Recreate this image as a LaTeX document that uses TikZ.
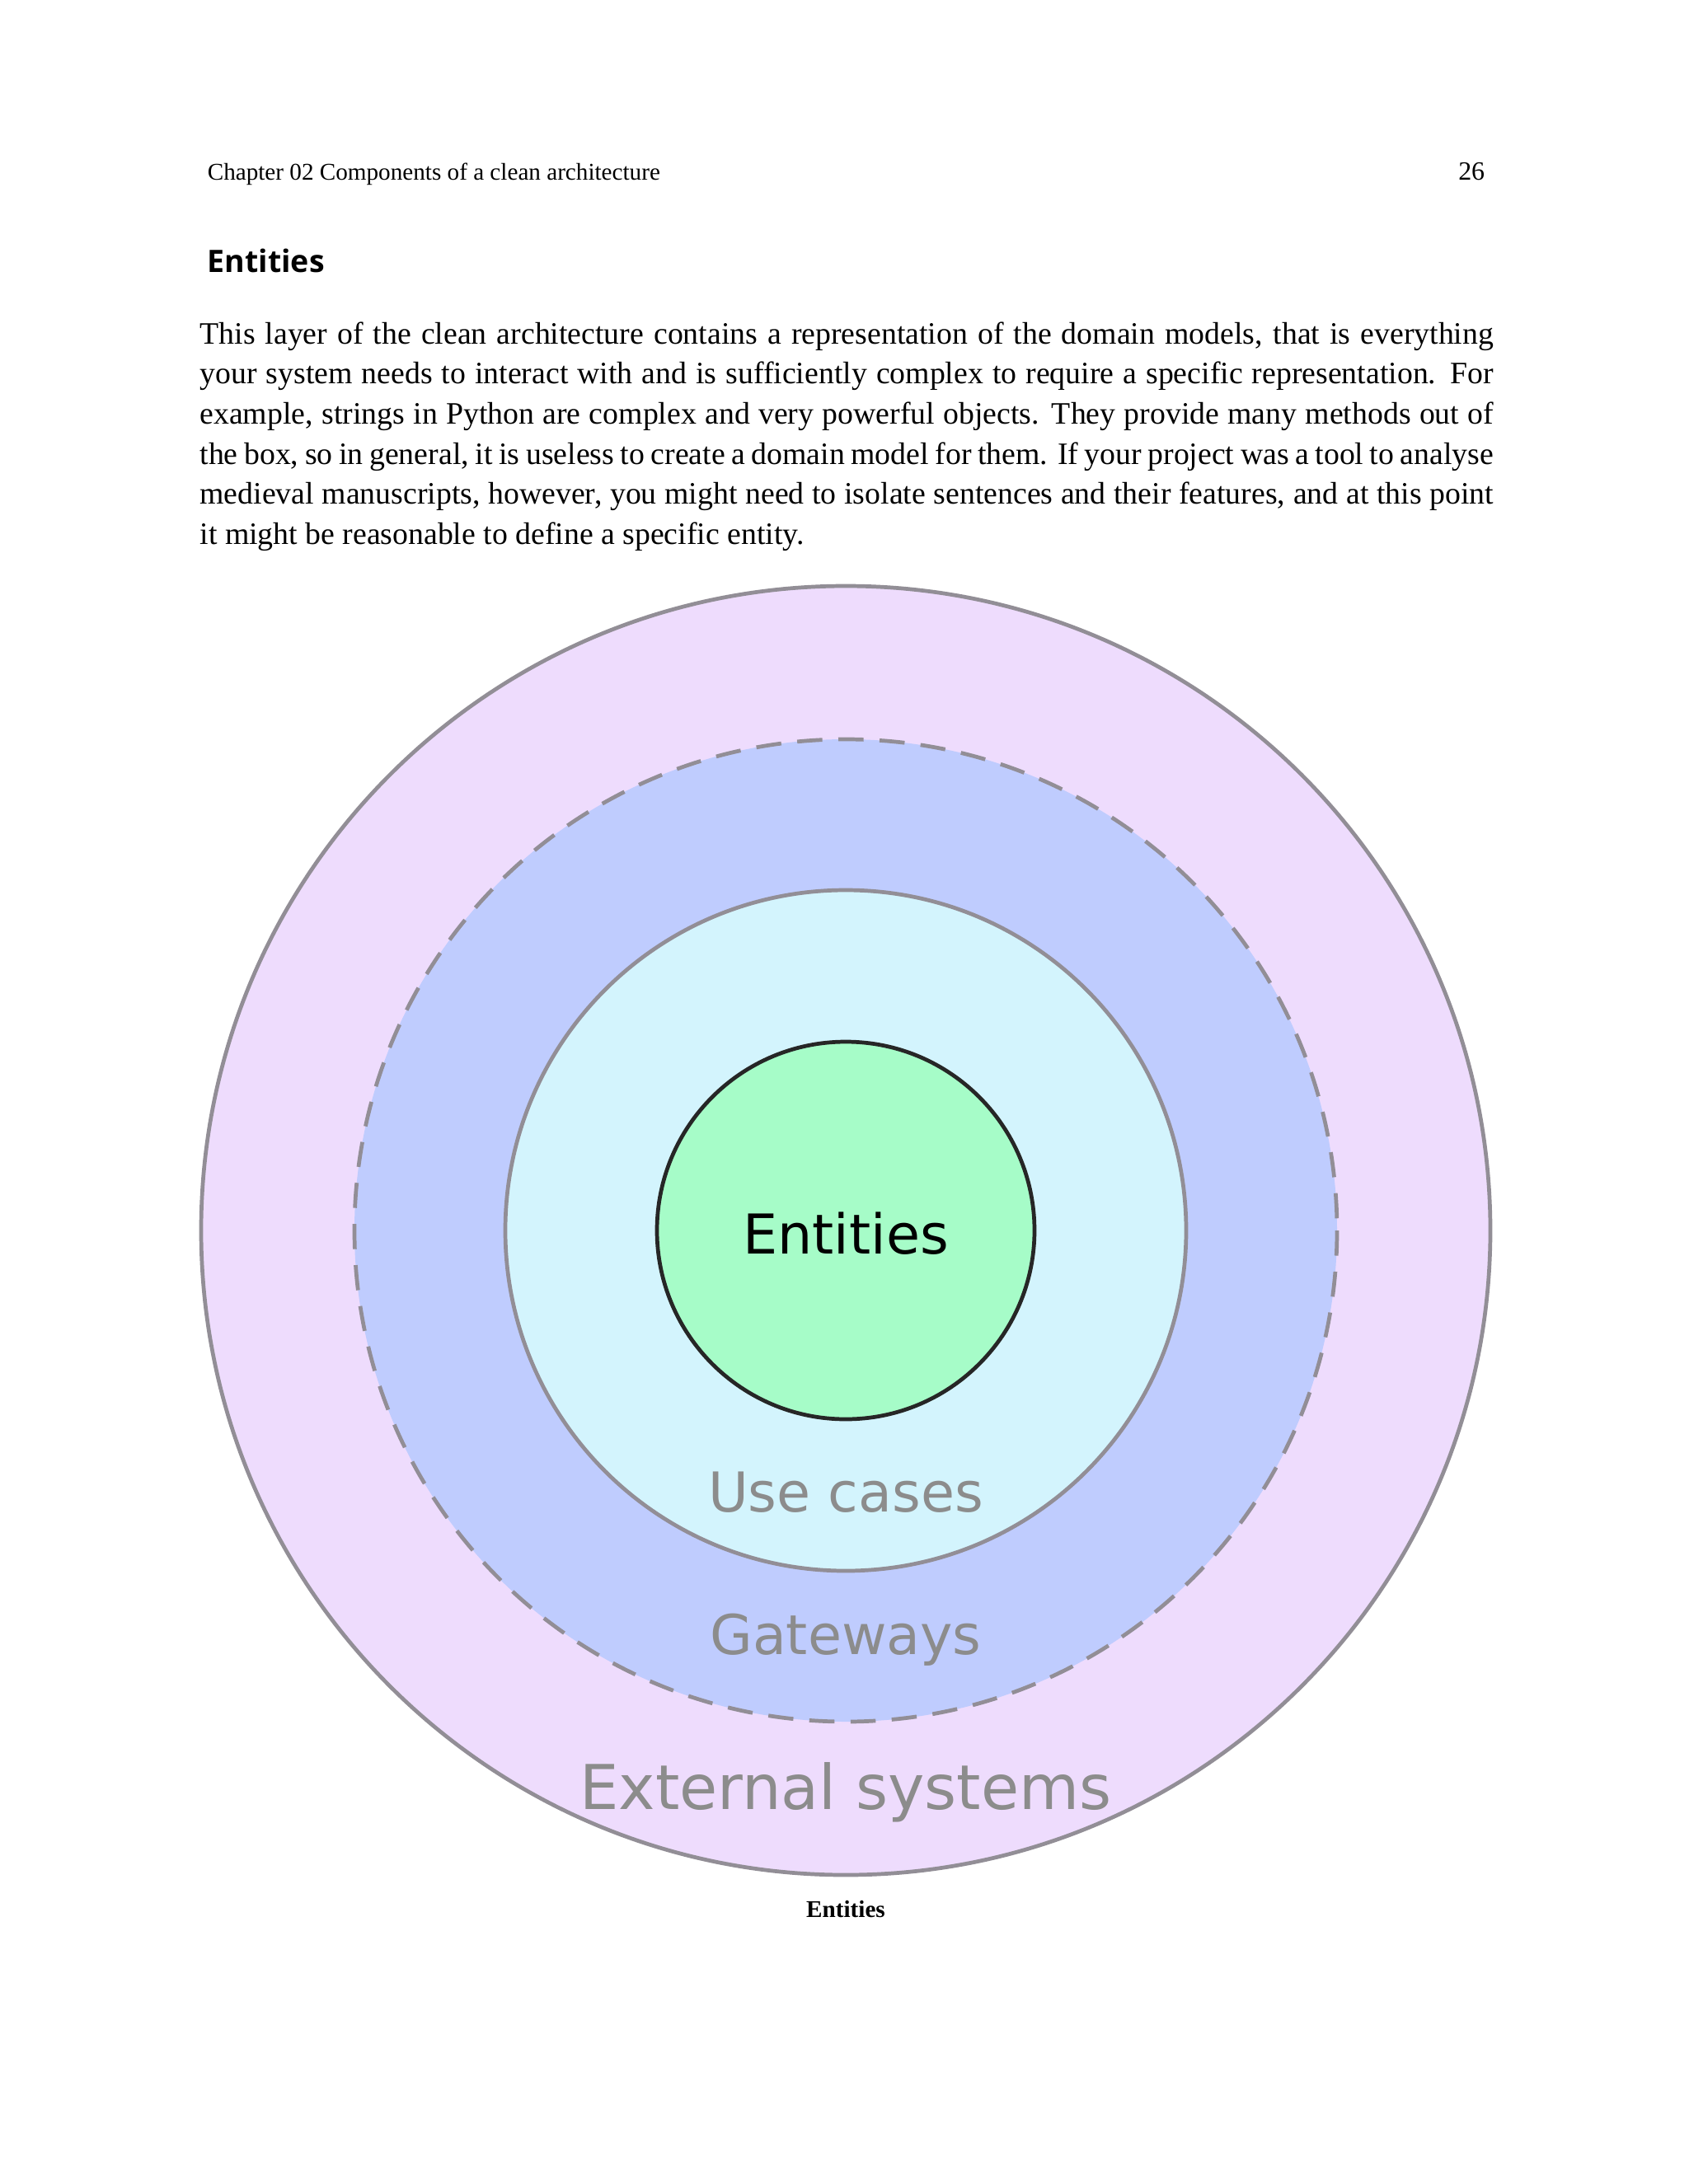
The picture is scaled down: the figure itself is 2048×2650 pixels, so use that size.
\documentclass[tikz,border=0pt]{standalone}
\usepackage{fontspec}
\setmainfont{Liberation Serif}
\newfontfamily\dejavu{DejaVu Sans}
\newfontfamily\opensans{Open Sans}
\definecolor{outerf}{HTML}{EEDCFD}
\definecolor{gatef}{HTML}{BFCCFE}
\definecolor{usef}{HTML}{D3F4FD}
\definecolor{entf}{HTML}{A6FCC8}
\definecolor{ring}{HTML}{928E96}
\definecolor{lbl}{HTML}{8C8C8C}
\begin{document}
\begin{tikzpicture}[x=0.36pt,y=-0.36pt,
  ringline/.style={draw=ring,line width=1.7pt},
  lab/.style={font=\dejavu\fontsize{24}{28}\selectfont,text=lbl}]
\useasboundingbox (0,0) rectangle (2048,2650);
\fill[white] (0,0) rectangle (2048,2650);
\node[anchor=base west,font=\fontsize{10.5}{12}\selectfont] (hdr) at (242,218) {Chapter 02 Components of a clean architecture};
\node[anchor=base east,font=\fontsize{11.5}{12}\selectfont] (pg) at (1811,218) {26};
\node[anchor=base west,font=\opensans\bfseries\fontsize{13.5}{16}\selectfont] (h) at (242,330) {Entities};
\node[anchor=north west,inner sep=0pt,text width=565pt,align=justify,font=\fontsize{13.6}{17.5}\selectfont] (par) at (242,390) {This layer of the clean architecture contains a representation of the domain models, that is everything your system needs to interact with and is sufficiently complex to require a specific representation. For example, strings in Python are complex and very powerful objects. They provide many methods out of the box, so in general, it is useless to create a domain model for them. If your project was a tool to analyse medieval manuscripts, however, you might need to isolate sentences and their features, and at this point it might be reasonable to define a specific entity.};
\coordinate (c) at (1026,1493);
\draw[ringline,fill=outerf] (c) circle[radius=782];
\fill[gatef] (c) circle[radius=596];
\draw[ringline,dash pattern=on 11pt off 7pt] (c) circle[radius=596];
\draw[ringline,fill=usef] (c) circle[radius=413];
\draw[draw=black!85,line width=1.7pt,fill=entf] (c) circle[radius=229];
\node[font=\dejavu\fontsize{24}{28}\selectfont] (ent) at (1026,1497) {Entities};
\node[lab] (uc) at (1026,1811) {Use cases};
\node[lab] (gw) at (1026,1990) {Gateways};
\node[lab,font=\dejavu\fontsize{27}{30}\selectfont] (ext) at (1026,2175) {External systems};
\node[font=\bfseries\fontsize{10.5}{12}\selectfont] (cap) at (1026,2316) {Entities};
\end{tikzpicture}
\end{document}
